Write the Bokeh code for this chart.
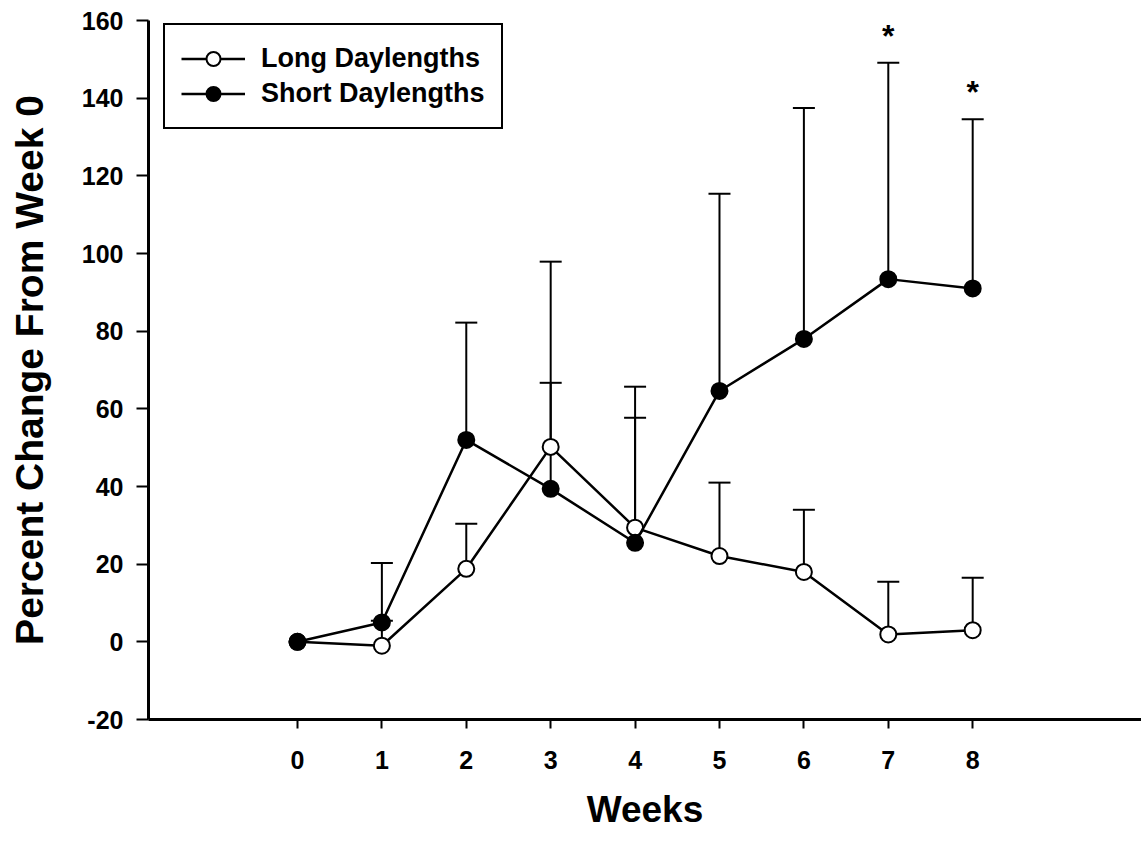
from bokeh.plotting import figure
from bokeh.models import (ColumnDataSource, Whisker, TeeHead, FixedTicker, Legend,
                          LegendItem, Range1d)
from bokeh.core.properties import value
from bokeh.embed import file_html
from bokeh.resources import INLINE

# ---------------- data ----------------
weeks = [0, 1, 2, 3, 4, 5, 6, 7, 8]
long_mean = [0.0, -1.0, 18.8, 50.2, 29.4, 22.1, 18.0, 1.9, 3.0]
long_sem = [0.0, 6.4, 11.6, 16.5, 28.3, 18.9, 16.0, 13.6, 13.5]
short_mean = [0.0, 5.0, 52.0, 39.4, 25.5, 64.6, 78.0, 93.4, 91.0]
short_sem = [0.0, 15.3, 30.2, 58.5, 40.2, 50.8, 59.5, 55.7, 43.6]
sig_weeks = [7, 8]
y_ticks = [-20, 0, 20, 40, 60, 80, 100, 120, 140, 160]
y_tick_labels = ["-20", "0", "20", "40", "60", "80", "100", "120", "140", "160"]
x_tick_labels = ["0", "1", "2", "3", "4", "5", "6", "7", "8"]
series_names = ["Long Daylengths", "Short Daylengths"]
x_title = "Weeks"
y_title = "Percent Change From Week 0"

FONT = "Liberation Sans"

p = figure(width=1141, height=842,
           x_range=Range1d(-1.765, 10.0), y_range=Range1d(-20, 160),
           output_backend="svg", toolbar_location=None,
           min_border_left=148, min_border_right=0,
           min_border_top=20, min_border_bottom=123)
p.outline_line_color = None
p.xgrid.visible = False
p.ygrid.visible = False
p.background_fill_color = "white"
p.border_fill_color = "white"

# error bars (upper only)
def whisker_source(mean, sem):
    xs, lo, up = [], [], []
    for w, m, s in zip(weeks, mean, sem):
        if s > 0:
            xs.append(w)
            lo.append(m)
            up.append(m + s)
    return ColumnDataSource(dict(x=xs, lower=lo, upper=up))

for mean, sem in ((long_mean, long_sem), (short_mean, short_sem)):
    src = whisker_source(mean, sem)
    wk = Whisker(source=src, base="x", lower="lower", upper="upper",
                 dimension="height", line_color="black", line_width=2,
                 upper_head=TeeHead(size=22, line_color="black", line_width=2),
                 lower_head=None, level="underlay")
    p.add_layout(wk)

# series
l1 = p.line(weeks, long_mean, line_color="black", line_width=2.5)
s1 = p.scatter(weeks, long_mean, size=16, fill_color="white",
               line_color="black", line_width=2)
l2 = p.line(weeks, short_mean, line_color="black", line_width=2.5)
s2 = p.scatter(weeks, short_mean, size=16, fill_color="black",
               line_color="black", line_width=2)

# significance stars
star_y = [short_mean[w] + short_sem[w] + 7.0 for w in sig_weeks]
p.text(x=sig_weeks, y=star_y, text=["*"] * len(sig_weeks),
       text_font=value(FONT), text_font_style="bold", text_font_size="32px",
       text_align="center", text_baseline="middle", text_color="black")

# legend
legend = Legend(items=[LegendItem(label=series_names[0], renderers=[l1, s1]),
                       LegendItem(label=series_names[1], renderers=[l2, s2])],
                location=(15, 590), margin=0, padding=16, spacing=0,
                glyph_width=64, glyph_height=35, label_height=35,
                label_standoff=16,
                label_text_font=FONT, label_text_font_style="bold",
                label_text_font_size="27px", label_text_color="black",
                border_line_color="black", border_line_width=2,
                border_line_alpha=1.0,
                background_fill_color="white", background_fill_alpha=1.0)
p.add_layout(legend, "center")

# axes
yax = p.yaxis[0]
yax.ticker = FixedTicker(ticks=y_ticks)
yax.major_label_overrides = {t: l for t, l in zip(y_ticks, y_tick_labels)}
yax.bounds = (-20, 160)
yax.axis_line_width = 3
yax.axis_line_color = "black"
yax.major_tick_line_width = 2
yax.major_tick_out = 12
yax.major_tick_in = 0
yax.minor_tick_line_color = None
yax.major_label_standoff = 13
yax.major_label_text_font = FONT
yax.major_label_text_font_style = "bold"
yax.major_label_text_font_size = "25px"
yax.major_label_text_color = "black"
yax.axis_label = y_title
yax.axis_label_text_font = FONT
yax.axis_label_text_font_style = "bold"
yax.axis_label_text_font_size = "39px"
yax.axis_label_text_color = "black"
yax.axis_label_standoff = 28

xax = p.xaxis[0]
xax.ticker = FixedTicker(ticks=weeks)
xax.major_label_overrides = {w: l for w, l in zip(weeks, x_tick_labels)}
xax.axis_line_width = 3
xax.axis_line_color = "black"
xax.major_tick_line_width = 2
xax.major_tick_out = 9
xax.major_tick_in = 0
xax.minor_tick_line_color = None
xax.major_label_standoff = 22
xax.major_label_text_font = FONT
xax.major_label_text_font_style = "bold"
xax.major_label_text_font_size = "25px"
xax.major_label_text_color = "black"
xax.axis_label = x_title
xax.axis_label_text_font = FONT
xax.axis_label_text_font_style = "bold"
xax.axis_label_text_font_size = "37px"
xax.axis_label_text_color = "black"
xax.axis_label_standoff = 17

open("out.html", "w").write(file_html(p, INLINE))
